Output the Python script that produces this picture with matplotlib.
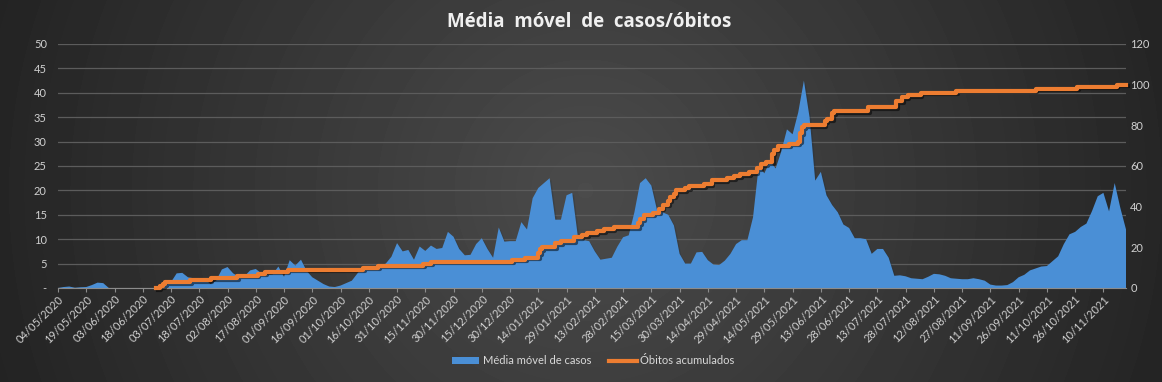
import numpy as np
import pandas as pd
import matplotlib
matplotlib.use("Agg")
import matplotlib.pyplot as plt
import matplotlib.patheffects as pe
from matplotlib.patches import Patch
from matplotlib.lines import Line2D

plt.rcParams['font.family'] = ['Lato', 'DejaVu Sans']

# --- data ---
start = pd.Timestamp('2020-05-04')

# moving average of cases, one value every 3 days from 04/05/2020
cases = [
    0, 0.2, 0.3, 0.05, 0.15, 0.2, 0.6, 1.1, 1.0, 0,
    0, 0, 0, 0, 0, 0, 0, 0, 0.2, 0.5,
    1.2, 3.0, 3.1, 2.2, 2.0, 2.0, 1.8, 0.8, 1.5, 3.8,
    4.3, 3.0, 2.3, 2.4, 3.6, 3.9, 3.0, 2.7, 2.8, 4.4,
    2.3, 5.7, 4.6, 5.8, 3.5, 2.2, 1.5, 0.8, 0.3, 0.2,
    0.5, 1.0, 1.5, 3.0, 4.5, 3.9, 4.0, 4.6, 5.0, 6.4,
    9.2, 7.5, 7.8, 5.8, 8.5, 7.6, 8.7, 8.0, 8.2, 11.5,
    10.5, 8.0, 6.7, 6.8, 9.0, 10.2, 8.0, 6.2, 12.4, 9.5,
    9.6, 9.6, 13.5, 12.0, 18.4, 20.5, 21.5, 22.5, 14.0, 14.0,
    19.0, 19.5, 10.5, 9.8, 9.6, 7.5, 5.8, 6.0, 6.2, 8.5,
    10.4, 10.8, 15.5, 21.5, 22.5, 21.0, 16.0, 15.5, 15.0, 12.8,
    7.0, 5.0, 5.0, 7.3, 7.4, 5.7, 4.8, 4.7, 5.6, 7.0,
    9.0, 9.8, 9.8, 14.5, 25.0, 23.5, 26.0, 24.5, 28.0, 32.5,
    31.5, 36.0, 42.5, 35.0, 22.0, 23.8, 19.0, 17.0, 15.5, 13.0,
    12.3, 10.2, 10.2, 10.0, 7.0, 8.0, 8.0, 6.2, 2.5, 2.6,
    2.4, 2.0, 1.9, 1.8, 2.3, 2.9, 2.8, 2.5, 2.0, 1.9,
    1.8, 1.8, 2.0, 1.8, 1.5, 0.7, 0.5, 0.5, 0.6, 1.2,
    2.2, 2.7, 3.6, 4.0, 4.4, 4.5, 5.5, 6.5, 9.0, 11.0,
    11.5, 12.5, 13.2, 15.8, 18.8, 19.5, 15.7, 21.5, 16.4, 12.0,
]
case_dates = pd.date_range(start, periods=len(cases), freq='3D')

# cumulative deaths: day (since 04/05/2020) when the total changes, and the new total
death_days = [52, 54, 56, 57, 70, 81, 95, 106, 110, 122,
              162, 170, 194, 198, 241, 248, 255, 256, 257, 264,
              267, 274, 278, 281, 286, 290, 295, 308, 309, 311,
              316, 319, 321, 324, 325, 327, 328, 333, 335, 343,
              347, 355, 359, 362, 367, 371, 373, 376, 379, 380,
              382, 388, 393, 394, 395, 396, 407, 408, 411, 412,
              430, 445, 448, 451, 458, 477, 519, 541, 562, 567]
deaths = [0, 1, 2, 3, 4, 5, 6, 7, 8, 9,
          10, 11, 12, 13, 14, 15, 17, 19, 20, 22,
          23, 25, 26, 27, 28, 29, 30, 32, 34, 36,
          37, 39, 41, 43, 45, 46, 48, 49, 50, 51,
          53, 54, 55, 56, 57, 59, 61, 62, 66, 68,
          70, 71, 72, 76, 79, 80, 82, 83, 86, 87,
          89, 92, 94, 95, 96, 97, 98, 99, 100, 100]
death_dates = start + pd.to_timedelta(death_days, unit='D')

tick_dates = pd.date_range(start, '2021-11-10', freq='15D')
tick_labels = [d.strftime('%d/%m/%Y') for d in tick_dates]

W, H = 1162, 382
fig = plt.figure(figsize=(W / 100, H / 100), dpi=100)

# radial dark background
bg = fig.add_axes([0, 0, 1, 1], zorder=-10)
yy, xx = np.mgrid[0:H, 0:W]
r = np.hypot(xx - 585, yy - 190) / 590
shade = np.clip(0.295 - 0.15 * r, 0.12, 1)
bg.imshow(shade, cmap='gray', vmin=0, vmax=1, aspect='auto', interpolation='bilinear')
bg.set_axis_off()

txt = '#d0d0d0'
ax = fig.add_axes([58 / W, 1 - 288 / H, (1126 - 58) / W, (288 - 44) / H])
ax.set_facecolor('none')
ax.fill_between(case_dates, cases, color='#4a8fd6', lw=0, zorder=2,
                path_effects=[pe.SimplePatchShadow(offset=(1.2, -1.2), alpha=0.25), pe.Normal()])
ax.set_ylim(0, 50)
ax.set_yticks(range(0, 51, 5))
ax.set_yticklabels(['-'] + [str(v) for v in range(5, 51, 5)])
ax.grid(axis='y', color='#5c5c5c', lw=0.9)
ax.set_axisbelow(True)
for s in ['top', 'left', 'right']:
    ax.spines[s].set_visible(False)
ax.spines['bottom'].set_color('#8c8c8c')
ax.set_xlim(start, case_dates[-1])
ax.set_xticks(tick_dates)
ax.set_xticklabels(tick_labels)
ax.tick_params(axis='x', colors='#8c8c8c', length=3, labelcolor=txt, labelsize=8, pad=1)
plt.setp(ax.get_xticklabels(), rotation=45, ha='right', rotation_mode='anchor')
ax.tick_params(axis='y', length=0, pad=8, labelsize=8, labelcolor=txt)

ax2 = ax.twinx()
ax2.plot(death_dates, deaths, drawstyle='steps-post', color='#ED7D31', lw=3, clip_on=False,
         path_effects=[pe.SimpleLineShadow(offset=(1.2, -1.2), alpha=0.5), pe.Normal()])
ax2.set_ylim(0, 120)
ax2.set_yticks(range(0, 121, 20))
ax2.tick_params(axis='y', length=0, pad=3, labelsize=8, labelcolor=txt)
for s in ax2.spines.values():
    s.set_visible(False)

fig.text(0.507, 1 - 22 / H, 'Média  móvel  de  casos/óbitos', ha='center', va='center',
         fontsize=13.5, fontweight='bold', color='#f0f0f0', family=['Open Sans', 'DejaVu Sans'])

handles = [Patch(facecolor='#4a8fd6', edgecolor='none'),
           Line2D([0], [0], color='#ED7D31', lw=3)]
fig.legend(handles, ['Média móvel de casos', 'Óbitos acumulados'], loc='center',
           bbox_to_anchor=(593 / W, 1 - 361 / H), ncol=2, frameon=False, fontsize=8,
           labelcolor='#d9d9d9', handlelength=2.5, handleheight=0.6, columnspacing=1.6,
           handletextpad=0.3)

fig.savefig('out.png', dpi=100)
